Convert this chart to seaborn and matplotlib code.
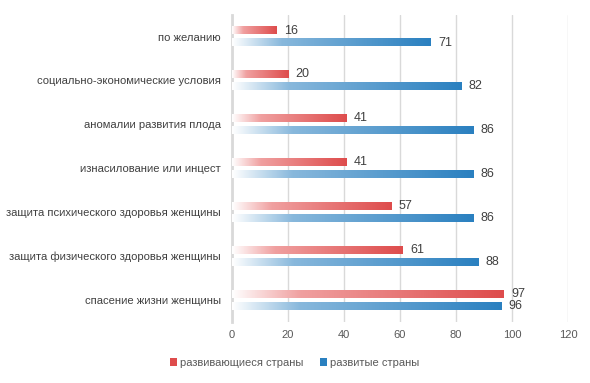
import numpy as np
import pandas as pd
import matplotlib.pyplot as plt
import seaborn as sns
from matplotlib.colors import LinearSegmentedColormap
from matplotlib.patches import Patch

categories = [
    "по желанию",
    "социально-экономические условия",
    "аномалии развития плода",
    "изнасилование или инцест",
    "защита психического здоровья женщины",
    "защита физического здоровья женщины",
    "спасение жизни женщины",
]
developing = [16, 20, 41, 41, 57, 61, 97]
developed = [71, 82, 86, 86, 86, 88, 96]
series_names = ["развивающиеся страны", "развитые страны"]
colors = ["#de4c4c", "#2a80c0"]
light = ["#f0a0a0", "#88b8dc"]

df = pd.DataFrame({
    "cat": categories * 2,
    "val": developing + developed,
    "series": [series_names[0]] * len(categories) + [series_names[1]] * len(categories),
})

sns.set_style("white")
plt.rcParams["font.family"] = ["Liberation Sans", "DejaVu Sans"]

fig = plt.figure(figsize=(5.9, 3.83), dpi=100)
ax = fig.add_axes([0.393, 0.159, 0.570, 0.803])

sns.barplot(data=df, y="cat", x="val", hue="series", palette=colors,
            orient="h", width=0.545, gap=0.41, legend=False, ax=ax)

# swap the flat bars for white-to-colour gradients
grad = np.linspace(0, 1, 256).reshape(1, -1)
bar_specs = [(c, l) for c, l in zip(colors, light) for _ in categories]
for patch, (col, lcol) in zip(list(ax.patches), bar_specs):
    x0, y0 = patch.get_x(), patch.get_y()
    w, h = patch.get_width(), patch.get_height()
    cmap = LinearSegmentedColormap.from_list(
        "g", [(0, "#ffffff"), (0.25, lcol), (1, col)])
    ax.imshow(grad, cmap=cmap, aspect="auto", extent=[x0, x0 + w, y0 + h, y0],
              zorder=3, interpolation="bicubic")
    patch.set_visible(False)
    ax.text(x0 + w + 2.6, y0 + h / 2, f"{int(w)}", va="center", ha="left",
            fontsize=9, color="#404040", zorder=4)

ax.set_xlim(0, 120)
ax.set_ylim(len(categories) - 0.5, -0.5)
ax.set_xticks(range(0, 121, 20))
ax.xaxis.grid(True, color="#d9d9d9", lw=1)
ax.set_axisbelow(True)
for s in ["top", "right", "bottom"]:
    ax.spines[s].set_visible(False)
ax.spines["left"].set_color("#d9d9d9")
ax.spines["left"].set_linewidth(2)
ax.tick_params(axis="x", length=0, labelsize=8, colors="#595959", pad=6)
ax.tick_params(axis="y", length=0, labelsize=8.1, colors="#404040", pad=8)
ax.set_xlabel("")
ax.set_ylabel("")

handles = [Patch(facecolor=c, edgecolor="none") for c in colors]
fig.legend(handles, series_names, loc="center", bbox_to_anchor=(0.5, 1 - 363 / 383),
           ncol=2, frameon=False, fontsize=8, handlelength=0.6, handleheight=0.8,
           handletextpad=0.3, columnspacing=1.5, labelcolor="#595959")

fig.savefig("out.png", dpi=100)
